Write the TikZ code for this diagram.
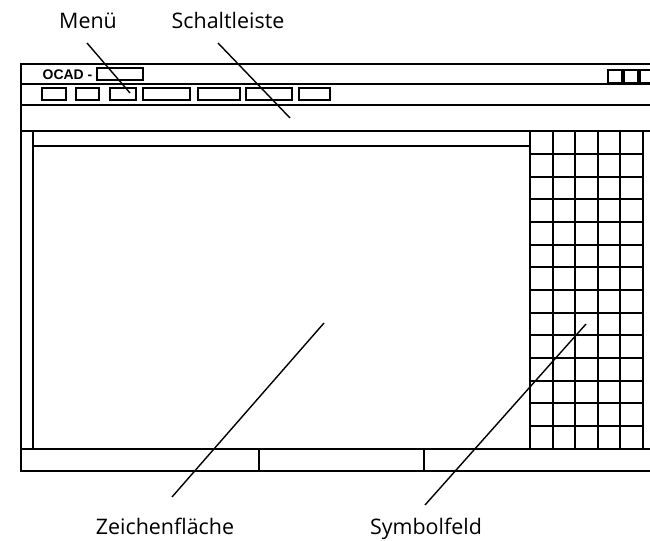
\documentclass[tikz,border=0pt]{standalone}
\usepackage{fontspec}
\setmainfont{Open Sans}
\newfontfamily\ocadfont{Liberation Sans}
\usetikzlibrary{positioning}

\begin{document}
\begin{tikzpicture}[x=1bp, y=-1bp, line width=1.4bp,
        callout/.style={font=\fontsize{21.5}{24}\selectfont, anchor=base, inner sep=0pt},
        leader/.style={line width=1.4bp},
        btn/.style={line width=1.3bp},
        symgrid/.style={line width=1.6bp}]

        % page of the reference size
        \useasboundingbox (0,0) rectangle (650,541);
        \clip (0,0) rectangle (650,541);

        % outer window frame, running off the right edge
        \draw (655,64) -- (21,64) -- (21,471) -- (655,471);
        % title bar, menu bar and tool bar
        \draw (21,84) -- (655,84);
        \draw (21,105) -- (655,105);
        \draw (21,131) -- (655,131);

        % title text with its little box
        \node[font=\ocadfont\bfseries\fontsize{14}{16}\selectfont, anchor=base west, inner sep=0pt] (title) at (42,79.5) {OCAD -};
        \draw[btn] (97,68) rectangle (143,80);
        % window buttons top right
        \foreach \x in {608,624,640}
            \draw[btn] (\x,70) rectangle ++(14,13);

        % menu buttons
        \foreach \a/\b in {42/66, 76/99, 110/136, 143/190, 198/240, 246/292, 299/330}
            \draw[btn] (\a,88) rectangle (\b,100);

        % drawing area
        \draw (33,131) -- (33,449);
        \draw (33,146) -- (530,146);
        \draw (21,449) -- (655,449);

        % status bar dividers
        \draw (259,449) -- (259,471);
        \draw (424,449) -- (424,471);

        % symbol field, 5 columns x 14 rows
        \foreach \x in {530,553,575,598,620,643}
            \draw[symgrid] (\x,131) -- (\x,449);
        \foreach \y in {154,177,199,222,245,267,290,313,335,358,381,403,426}
            \draw[symgrid] (530,\y) -- (643,\y);

        % labels
        \node[callout] (menu) at (88,29) {Menü};
        \node[callout] (toolbar) at (228,29) {Schaltleiste};
        \node[callout] (drawarea) at (165,534) {Zeichenfläche};
        \node[callout] (symfield) at (426,534) {Symbolfeld};

        \coordinate (menu tip) at (130,93);
        \coordinate (toolbar tip) at (290,118);
        \coordinate (drawarea tip) at (324,323);
        \coordinate (symfield tip) at (586,324);

        % leaders
        \draw[leader] (menu.base) ++(-1,14) -- (menu tip);
        \draw[leader] (toolbar.base) ++(-10,14) -- (toolbar tip);
        \draw[leader] (drawarea.base) ++(7,-37) -- (drawarea tip);
        \draw[leader] (symfield.base) ++(-1,-29) -- (symfield tip);

\end{tikzpicture}
\end{document}
